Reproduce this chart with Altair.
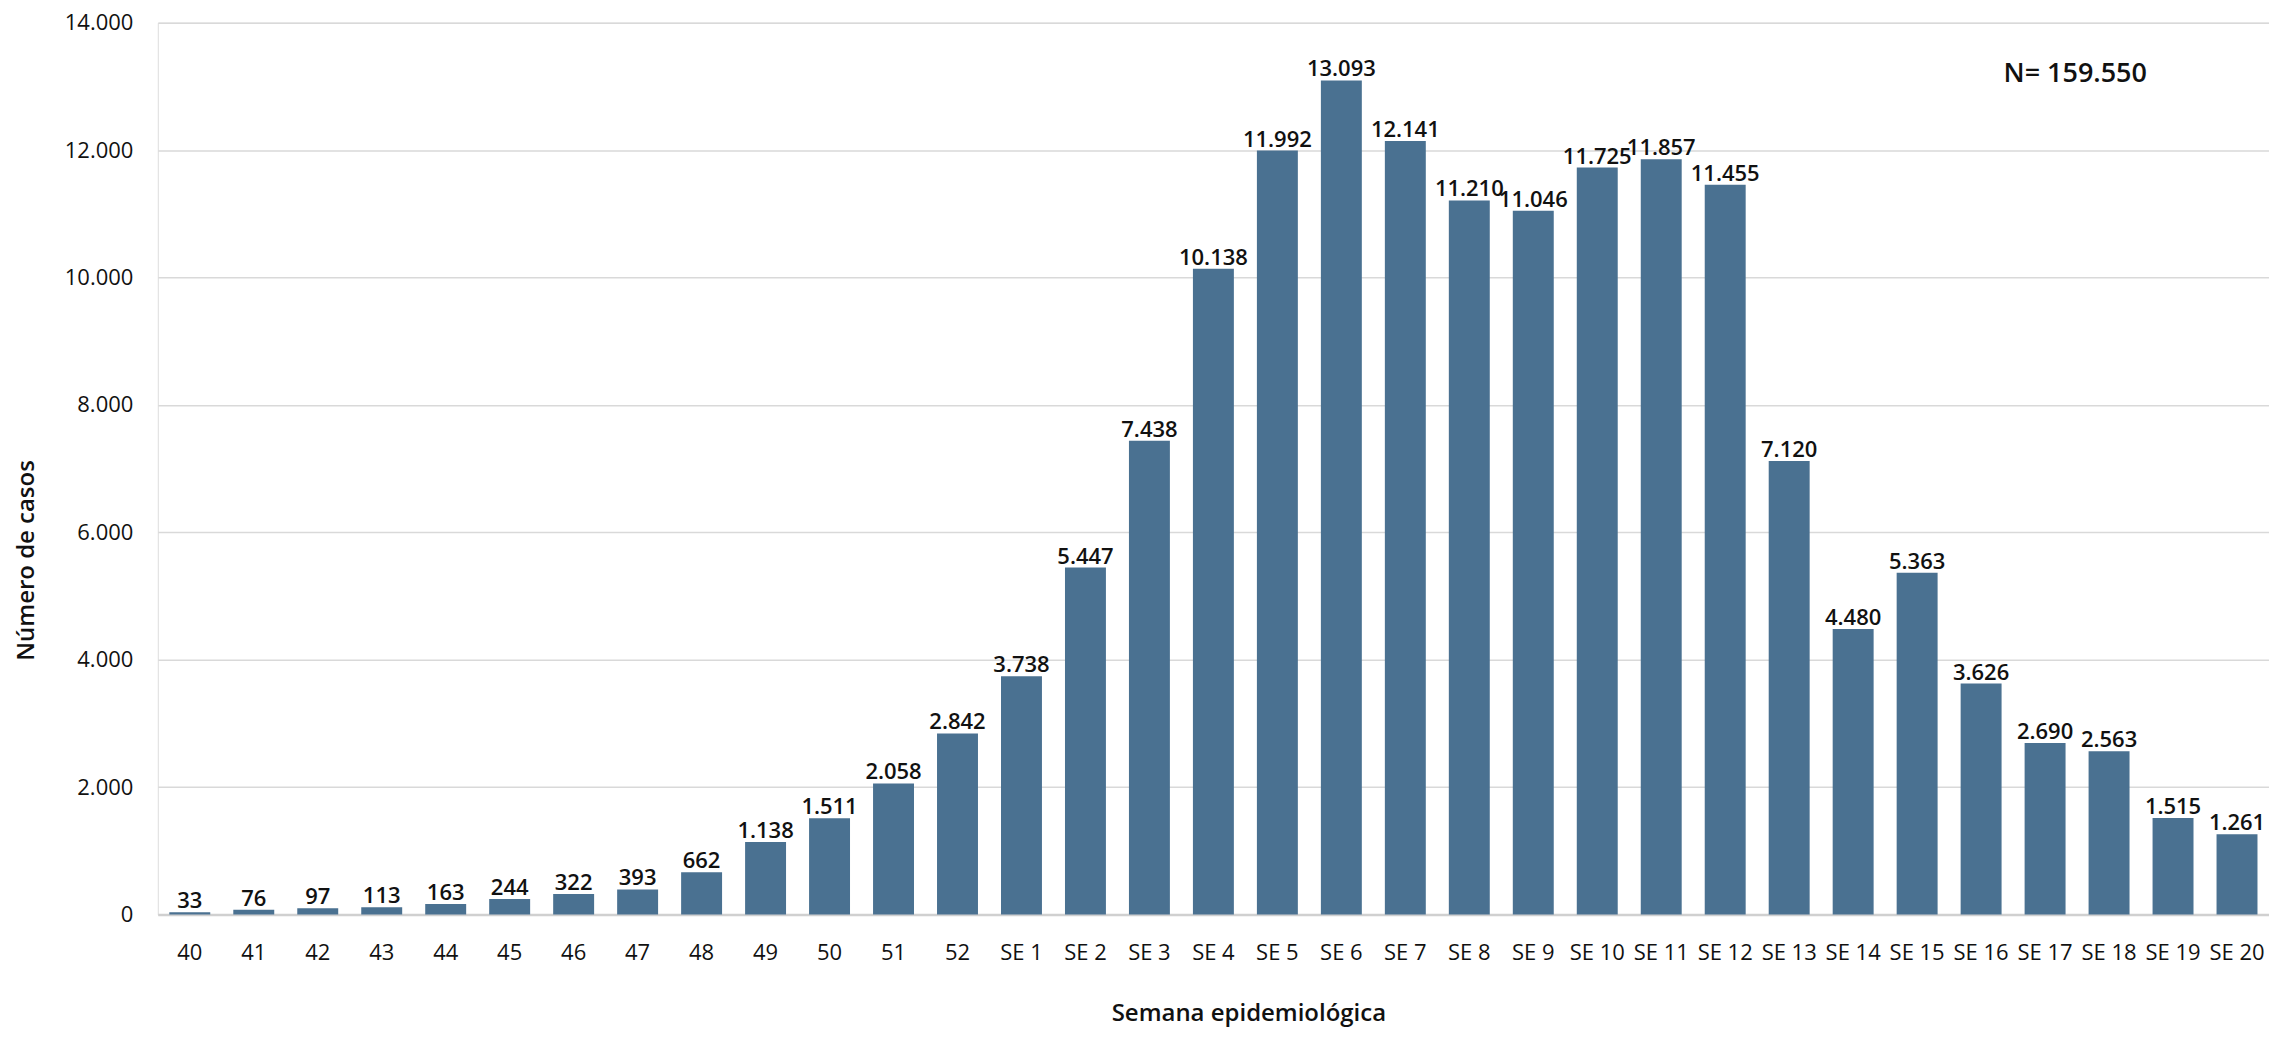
import altair as alt
import pandas as pd

semanas = ["40", "41", "42", "43", "44", "45", "46", "47", "48", "49", "50", "51", "52",
           "SE 1", "SE 2", "SE 3", "SE 4", "SE 5", "SE 6", "SE 7", "SE 8", "SE 9", "SE 10",
           "SE 11", "SE 12", "SE 13", "SE 14", "SE 15", "SE 16", "SE 17", "SE 18", "SE 19", "SE 20"]
casos = [33, 76, 97, 113, 163, 244, 322, 393, 662, 1138, 1511, 2058, 2842,
         3738, 5447, 7438, 10138, 11992, 13093, 12141, 11210, 11046, 11725,
         11857, 11455, 7120, 4480, 5363, 3626, 2690, 2563, 1515, 1261]
y_ticks = [0, 2000, 4000, 6000, 8000, 10000, 12000, 14000]
total_label = "N= 159.550"

df = pd.DataFrame({"semana": semanas, "casos": casos})

FONT = "Open Sans"
BAR = "#4A7191"
TXT = "#111111"

x_enc = alt.X("semana:N", sort=semanas,
              scale=alt.Scale(paddingInner=0.36, paddingOuter=0.18),
              axis=alt.Axis(title="Semana epidemiológica", labelAngle=0, labelFontSize=22,
                            labelFont=FONT, labelColor=TXT, labelPadding=28, ticks=False,
                            domain=True, domainColor="#d0d0d0", domainWidth=2.5,
                            titleFont=FONT, titleFontSize=24, titleFontWeight=600, titleColor=TXT,
                            titleX=1092, titleY=106, titleBaseline="alphabetic",
                            titleAlign="center"))
y_enc = alt.Y("casos:Q",
              scale=alt.Scale(domain=[0, 14000], nice=False),
              axis=alt.Axis(title="Número de casos", values=y_ticks, format=",.0f",
                            labelFontSize=22, labelFont=FONT, labelColor=TXT, labelPadding=25,
                            ticks=False, domain=False, grid=True, gridColor="#d9d9d9",
                            gridWidth=1.5,
                            titleFont=FONT, titleFontSize=24, titleFontWeight=600, titleColor=TXT,
                            titleX=-131, titleY=538, titleAngle=270, titleBaseline="middle",
                            titleAlign="center"))

bars = alt.Chart(df).mark_bar(color=BAR).encode(x=x_enc, y=y_enc)

labels = alt.Chart(df).mark_text(font=FONT, fontSize=22, fontWeight=600, color=TXT,
                                 baseline="alphabetic", dy=-4).encode(
    x=alt.X("semana:N", sort=semanas),
    y=alt.Y("casos:Q"),
    text=alt.Text("casos:Q", format=","),
)

n_df = pd.DataFrame({"t": [total_label]})
n_text = alt.Chart(n_df).mark_text(font=FONT, fontSize=27, fontWeight=600, color=TXT,
                                   align="center", baseline="middle").encode(
    text="t:N", x=alt.value(1920), y=alt.value(51))

chart = alt.layer(bars, labels, n_text).properties(
    width=2114, height=893,
    autosize=alt.AutoSizeParams(type="none"),
    padding={"left": 150, "top": 14, "right": 0, "bottom": 115},
    background="white",
).configure_view(stroke=None).configure(
    locale=alt.Locale(number=alt.NumberLocale(decimal=",", thousands=".", grouping=[3],
                                              currency=["", ""]))
)

chart.save("out.html", embed_options={"renderer": "svg", "actions": False})
